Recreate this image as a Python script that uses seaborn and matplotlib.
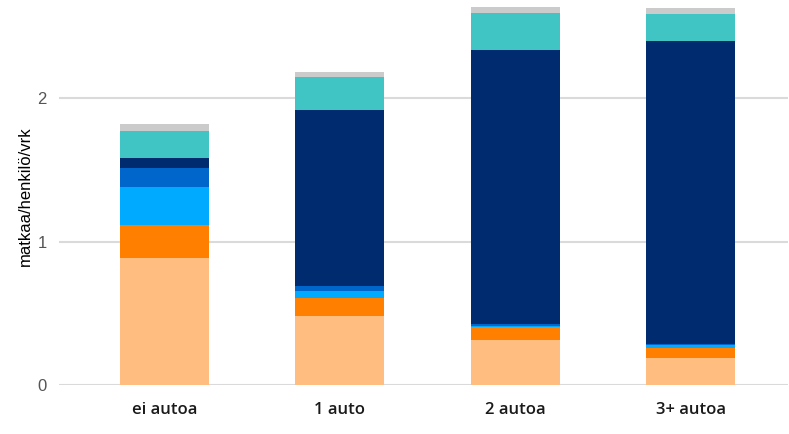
import numpy as np
import pandas as pd
import matplotlib
matplotlib.use('Agg')
import matplotlib.pyplot as plt
import seaborn as sns

# categories and stacked segment values (matkaa/henkilö/vrk), bottom -> top
categories = ['ei autoa', '1 auto', '2 autoa', '3+ autoa']
seg1 = [0.887, 0.483, 0.316, 0.190]   # light orange
seg2 = [0.230, 0.125, 0.086, 0.070]   # orange
seg3 = [0.263, 0.047, 0.011, 0.019]   # light blue
seg4 = [0.132, 0.037, 0.010, 0.009]   # mid blue
seg5 = [0.070, 1.222, 1.909, 2.107]   # dark blue
seg6 = [0.186, 0.232, 0.262, 0.192]   # teal
seg7 = [0.053, 0.037, 0.040, 0.040]   # grey
yticks = [0, 1, 2]

segments = [seg1, seg2, seg3, seg4, seg5, seg6, seg7]
colors = ['#FFBE80', '#FF7F00', '#00AAFF', '#0066CC', '#002B6F', '#40C4C4', '#CBCBCB']

sns.set_style('white')
plt.rcParams['font.family'] = ['Liberation Sans', 'DejaVu Sans']

fig = plt.figure(figsize=(7.89, 4.34), dpi=100)
ax = fig.add_axes([0.0748, 0.1129, 0.9239, 0.8871])

# cumulative totals, drawn from top layer down so each shorter bar covers the one behind
cum = np.cumsum(np.array(segments), axis=0)
for i in range(len(segments) - 1, -1, -1):
    df = pd.DataFrame({'cat': categories, 'val': cum[i]})
    sns.barplot(data=df, x='cat', y='val', color=colors[i], width=0.507,
                saturation=1, linewidth=0, ax=ax, zorder=3)

ax.set_xlim(-0.601, 3.553)
ax.set_ylim(0, 2.683)
ax.set_yticks(yticks)
ax.yaxis.grid(True, color='#DADADA', linewidth=1.5, zorder=0)
ax.set_axisbelow(True)
for s in ax.spines.values():
    s.set_visible(False)

ax.tick_params(axis='y', length=0, pad=9, labelsize=12, labelcolor='#555555')
ax.tick_params(axis='x', length=0, pad=12)
for lab in ax.get_xticklabels():
    lab.set_fontfamily(['Open Sans', 'DejaVu Sans'])
    lab.set_fontweight('semibold')
    lab.set_fontsize(12)
    lab.set_color('#1a1a1a')

ax.set_xlabel('')
ax.set_ylabel('matkaa/henkilö/vrk', fontsize=12, color='black')
ax.yaxis.set_label_coords(-0.036, 0.49)

plt.savefig('out.png', dpi=100)
